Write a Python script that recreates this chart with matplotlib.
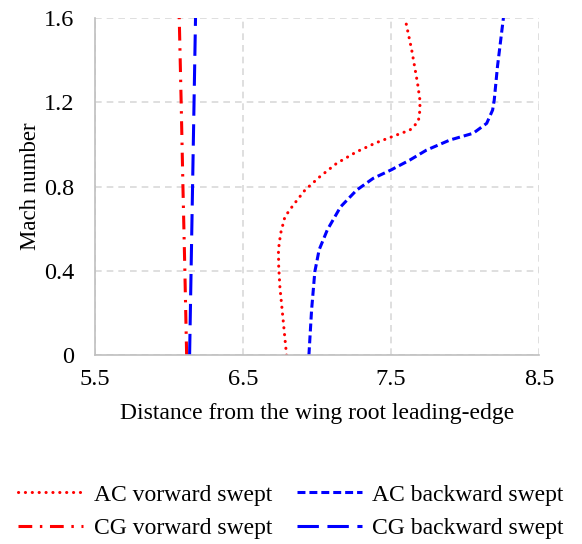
import matplotlib.pyplot as plt

plt.rcParams['font.family'] = ['Liberation Serif', 'DejaVu Serif']

# AC, forward swept wing
mach_ac_fwd = [0.0, 0.166, 0.324, 0.42, 0.5, 0.578, 0.657, 0.712, 0.783, 0.847, 0.91,
               0.965, 1.008, 1.045, 1.068, 1.108, 1.163, 1.21, 1.29, 1.45, 1.6]
x_ac_fwd = [6.795, 6.772, 6.75, 6.742, 6.74, 6.755, 6.784, 6.84, 6.919, 7.02, 7.133,
            7.268, 7.40, 7.539, 7.628, 7.685, 7.696, 7.696, 7.68, 7.64, 7.595]

# AC, backward swept wing
mach_ac_bwd = [0.0, 0.214, 0.396, 0.5, 0.594, 0.704, 0.783, 0.839, 0.878, 0.926, 0.973,
               1.021, 1.053, 1.10, 1.163, 1.21, 1.37, 1.6]
x_ac_bwd = [6.946, 6.964, 6.986, 7.015, 7.07, 7.16, 7.268, 7.38, 7.498, 7.628, 7.74,
            7.899, 8.056, 8.147, 8.187, 8.198, 8.22, 8.26]

# CG lines
mach_cg = [0.0, 0.4, 0.8, 1.2, 1.6]
x_cg_fwd = [6.12, 6.108, 6.095, 6.083, 6.07]
x_cg_bwd = [6.14, 6.15, 6.16, 6.17, 6.18]

fig = plt.figure(figsize=(5.82, 5.44), dpi=100)
ax = fig.add_axes([0.163, 0.347, 0.763, 0.620])

l1, = ax.plot(x_ac_fwd, mach_ac_fwd, color='#FF0000', lw=2.2, linestyle=(0, (0.05, 2.2)),
              dash_capstyle='round', label='AC vorward swept')
l2, = ax.plot(x_ac_bwd, mach_ac_bwd, color='#0000FF', lw=2.2, linestyle=(0, (2.6, 1.3)),
              label='AC backward swept')
l3, = ax.plot(x_cg_fwd, mach_cg, color='#FF0000', lw=2.2, linestyle=(0, (4.5, 2.5, 0.8, 2.5)),
              label='CG vorward swept')
l4, = ax.plot(x_cg_bwd, mach_cg, color='#0000FF', lw=2.2, linestyle=(0, (7, 2.8)),
              label='CG backward swept')

ax.set_xlim(5.5, 8.5)
ax.set_ylim(0, 1.6)
ax.set_xticks([5.5, 6.5, 7.5, 8.5])
ax.set_xticklabels(['5.5', '6.5', '7.5', '8.5'])
ax.set_yticks([0, 0.4, 0.8, 1.2, 1.6])
ax.set_yticklabels(['0', '0.4', '0.8', '1.2', '1.6'])
ax.tick_params(length=0, labelsize=17.5)
ax.tick_params(axis='x', pad=10)
ax.tick_params(axis='y', pad=15)

ax.grid(True, color='#D9D9D9', linestyle=(0, (4, 3)), linewidth=1.2)
ax.set_axisbelow(True)
for s in ['top', 'right']:
    ax.spines[s].set_visible(False)
for s in ['left', 'bottom']:
    ax.spines[s].set_color('#BFBFBF')
    ax.spines[s].set_linewidth(1.2)

ax.set_xlabel('Distance from the wing root leading-edge', fontsize=17, labelpad=9)
ax.set_ylabel('Mach number', fontsize=16.5, labelpad=2)

# order so rows read AC fwd / AC bwd, CG fwd / CG bwd
fig.legend([l1, l3, l2, l4], [l1.get_label(), l3.get_label(), l2.get_label(), l4.get_label()],
           loc='lower center', bbox_to_anchor=(0.5, -0.03), ncol=2, frameon=False,
           fontsize=17, handlelength=2.75, columnspacing=1.05, labelspacing=0.5,
           handletextpad=0.45)

plt.savefig('out.png', dpi=100)
